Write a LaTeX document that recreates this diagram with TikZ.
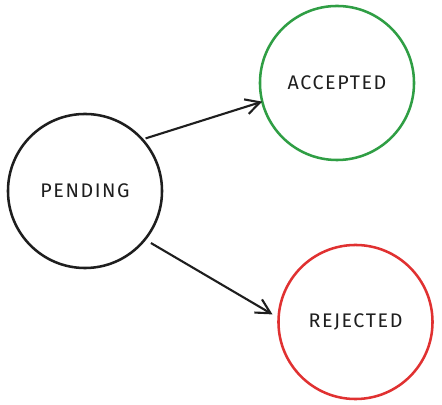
\documentclass[tikz,border=0pt]{standalone}
\usepackage{fontspec}
\setmainfont{Fira Sans}
\newfontfamily\handfont{Fira Sans}[LetterSpace=8]
\usetikzlibrary{arrows.meta}

\definecolor{ink}{HTML}{1e1e1e}
\definecolor{okgreen}{HTML}{2f9e44}
\definecolor{badred}{HTML}{e03131}

\tikzset{
  state/.style={circle, draw, line width=1.8pt, minimum size=3.85cm, inner sep=0pt, outer sep=0pt,
    text=ink, font=\handfont\fontsize{14}{16}\selectfont},
  move/.style={-{Straight Barb[length=3.6mm, width=3.8mm, line width=1.5pt]}, line width=1.5pt, draw=ink}
}

\begin{document}
\begin{tikzpicture}[x=0.025cm, y=-0.025cm]

\useasboundingbox (0,0) rectangle (442,405);

\node (pending) at (85,191) [state, draw=ink] {PENDING};
\node (accepted) at (337,83) [state, draw=okgreen] {ACCEPTED};
\node (rejected) at (355.5,322) [state, draw=badred] {REJECTED};

\draw[move, shorten <=2.5pt] (pending.42) -- (accepted.194);
\draw[move, shorten <=5pt, shorten >=5pt] (pending.-39) -- (rejected.177);

\end{tikzpicture}
\end{document}
